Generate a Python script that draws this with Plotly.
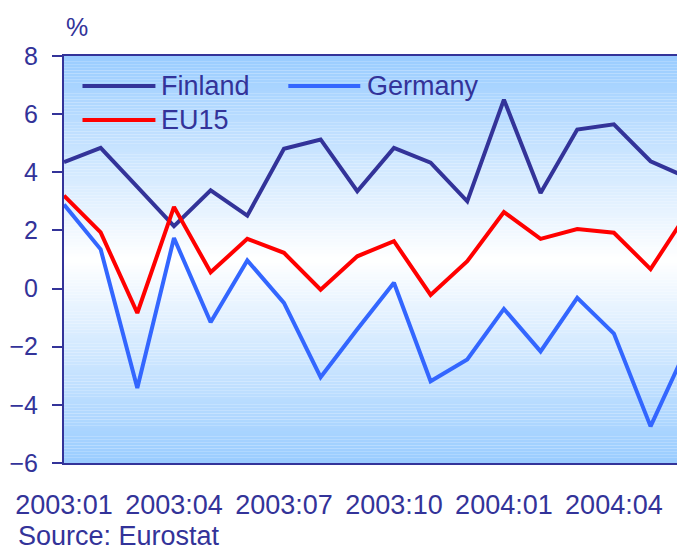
import plotly.graph_objects as go

# ---- data ----
months = ["2003:01", "2003:02", "2003:03", "2003:04", "2003:05", "2003:06",
          "2003:07", "2003:08", "2003:09", "2003:10", "2003:11", "2003:12",
          "2004:01", "2004:02", "2004:03", "2004:04", "2004:05", "2004:06"]
finland = [4.35, 4.84, 3.5, 2.15, 3.38, 2.51, 4.81, 5.13, 3.35, 4.84, 4.33, 3.0,
           6.5, 3.29, 5.47, 5.65, 4.38, 3.82]
germany = [2.89, 1.35, -3.42, 1.74, -1.16, 0.97, -0.49, -3.05, -1.4, 0.2, -3.19, -2.44,
           -0.7, -2.16, -0.32, -1.55, -4.74, -2.0]
eu15 = [3.2, 1.93, -0.84, 2.81, 0.56, 1.71, 1.23, -0.04, 1.11, 1.63, -0.22, 0.94,
        2.63, 1.71, 2.05, 1.92, 0.67, 2.6]
tick_idx = [0, 3, 6, 9, 12, 15]
y_ticks = [-6, -4, -2, 0, 2, 4, 6, 8]

NAVY = "#333399"
FONT = "Arial, Liberation Sans, sans-serif"

x = list(range(len(months)))

fig = go.Figure()
fig.add_trace(go.Scatter(x=x, y=finland, mode="lines", name="Finland",
                         line=dict(color=NAVY, width=4), showlegend=False))
fig.add_trace(go.Scatter(x=x, y=germany, mode="lines", name="Germany",
                         line=dict(color="#3366FF", width=4), showlegend=False))
fig.add_trace(go.Scatter(x=x, y=eu15, mode="lines", name="EU15",
                         line=dict(color="#FF0000", width=4), showlegend=False))

# gradient background: light blue at top/bottom, white around the centre
shapes = []
top, bot, centre = 8.0, -6.0, 1.0
n = 140
c_edge = (153, 204, 255)
c_mid = (255, 255, 255)
for k in range(n):
    y0 = bot + (top - bot) * k / n
    y1 = bot + (top - bot) * (k + 1) / n
    ym = (y0 + y1) / 2
    t = abs(ym - centre) / 7.0
    col = tuple(round(c_mid[j] * (1 - t) + c_edge[j] * t) for j in range(3))
    shapes.append(dict(type="rect", xref="paper", yref="y", x0=0, x1=1,
                       y0=y0, y1=y1, layer="below", line=dict(width=0),
                       fillcolor="rgb(%d,%d,%d)" % col))

# manual legend
PX0, PW = 63.5, 613.5
PY1, PH = 462.7, 406.7


def px(v):
    return (v - PX0) / PW


def py(v):
    return (PY1 - v) / PH


legend_items = [("Finland", NAVY, 82, 155, 86, 159),
                ("Germany", "#3366FF", 288, 360, 86, 365),
                ("EU15", "#FF0000", 82, 155, 120, 159)]
annotations = []
for name, col, xa, xb, yy, xt in legend_items:
    shapes.append(dict(type="line", xref="paper", yref="paper",
                       x0=px(xa), x1=px(xb), y0=py(yy), y1=py(yy),
                       line=dict(color=col, width=4)))
    annotations.append(dict(text=name, xref="paper", yref="paper",
                            x=px(xt), y=py(yy), xanchor="left", yanchor="middle",
                            showarrow=False, font=dict(family=FONT, size=27, color=NAVY)))

annotations.append(dict(text="%", xref="paper", yref="paper", x=px(64), y=py(27),
                        xanchor="left", yanchor="middle", showarrow=False,
                        font=dict(family=FONT, size=25, color=NAVY)))
annotations.append(dict(text="Source: Eurostat", xref="paper", yref="paper",
                        x=px(15), y=py(536), xanchor="left", yanchor="middle",
                        showarrow=False, font=dict(family=FONT, size=27, color=NAVY)))

xr = [0, PW / 36.69]

fig.update_layout(
    width=677, height=550,
    margin=dict(l=63.5, r=0, t=56, b=87.3, pad=0),
    paper_bgcolor="white", plot_bgcolor="white",
    shapes=shapes, annotations=annotations,
    showlegend=False,
    xaxis=dict(range=xr, tickvals=tick_idx, ticktext=[months[i] for i in tick_idx],
               ticks="", showline=True, mirror=True, linecolor=NAVY, linewidth=2,
               showgrid=False, zeroline=False, ticklabelstandoff=17,
               tickfont=dict(family=FONT, size=27, color=NAVY)),
    xaxis2=dict(range=xr, overlaying="x", anchor="free", position=6 / 14,
                tickvals=tick_idx[1:], showticklabels=False, ticks="outside",
                ticklen=6, tickwidth=2, tickcolor=NAVY, showline=True,
                linecolor=NAVY, linewidth=2, showgrid=False, zeroline=False,
                layer="below traces"),
    yaxis=dict(range=[-6, 8], tickvals=y_ticks, ticks="outside", ticklen=10,
               tickwidth=2, tickcolor=NAVY, showline=True, linecolor=NAVY,
               linewidth=2, showgrid=False, zeroline=False, ticklabelstandoff=9,
               tickfont=dict(family=FONT, size=25, color=NAVY)),
)

fig.write_html(
    "out.html",
    config={"displayModeBar": False},
    post_script="document.body.style.margin='0';document.body.style.overflow='hidden';",
)
